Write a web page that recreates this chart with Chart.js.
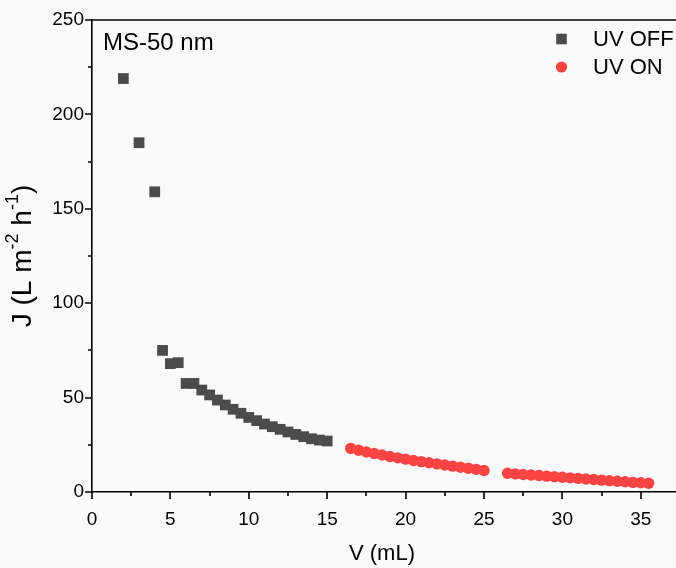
<!DOCTYPE html>
<html><head><meta charset="utf-8">
<script src="https://cdn.jsdelivr.net/npm/chart.js@4/dist/chart.umd.min.js"></script>
<style>html,body{margin:0;padding:0;overflow:hidden;background:#fafafa}#wrap{width:700px;height:568px;position:relative}</style>
</head><body><div id="wrap"><canvas id="c" width="700" height="568"></canvas></div>
<script>
// ---- data ----
const offV = [2, 3, 4, 4.5, 5, 5.5, 6, 6.5, 7, 7.5, 8, 8.5, 9, 9.5, 10, 10.5, 11, 11.5, 12, 12.5, 13, 13.5, 14, 14.5, 15];
const offJ = [219, 185, 159, 75, 68, 68.5, 57.5, 57.5, 54, 51.4, 48.7, 46.1, 43.8, 41.7, 39.5, 37.8, 36, 34.6, 33.2, 31.8, 30.5, 29.3, 28.2, 27.5, 27];
const onV = [16.5, 17, 17.5, 18, 18.5, 19, 19.5, 20, 20.5, 21, 21.5, 22, 22.5, 23, 23.5, 24, 24.5, 25,
             26.5, 27, 27.5, 28, 28.5, 29, 29.5, 30, 30.5, 31, 31.5, 32, 32.5, 33, 33.5, 34, 34.5, 35, 35.5];
const onJ = [23.1, 22.1, 21.2, 20.4, 19.6, 18.8, 18.1, 17.4, 16.7, 16.1, 15.5, 14.9, 14.3, 13.7, 13.1, 12.6, 12.0, 11.4,
             9.9, 9.6, 9.3, 9.0, 8.7, 8.4, 8.1, 7.8, 7.5, 7.2, 6.9, 6.6, 6.3, 6.0, 5.7, 5.4, 5.1, 4.9, 4.6];
const xMajorTicks = [0, 5, 10, 15, 20, 25, 30, 35];
const xMinorTicks = [2.5, 7.5, 12.5, 17.5, 22.5, 27.5, 32.5];
const yMajorTicks = [0, 50, 100, 150, 200, 250];
const yMinorTicks = [25, 75, 125, 175, 225];
const seriesNames = ['UV OFF', 'UV ON'];
const panelLabel = 'MS-50 nm';
const xTitle = 'V (mL)';

const FONT = 'Arial, "Liberation Sans", sans-serif';
const GRAY = '#4b4b4b';
const RED = '#fc4343';

const deco = {
  id: 'deco',
  beforeDraw(chart) {
    const c = chart.ctx;
    c.save(); c.fillStyle = '#fafafa'; c.fillRect(0, 0, chart.width, chart.height); c.restore();
  },
  afterDraw(chart) {
    const c = chart.ctx, a = chart.chartArea, xs = chart.scales.x, ys = chart.scales.y;
    c.save();
    c.strokeStyle = '#000'; c.lineWidth = 1.6;
    // top frame
    c.beginPath(); c.moveTo(a.left, a.top); c.lineTo(chart.width, a.top); c.stroke();
    // ticks
    c.beginPath();
    xMajorTicks.forEach(v => { const p = Math.round(xs.getPixelForValue(v)); c.moveTo(p, a.bottom); c.lineTo(p, a.bottom + 7); });
    xMinorTicks.forEach(v => { const p = Math.round(xs.getPixelForValue(v)); c.moveTo(p, a.bottom); c.lineTo(p, a.bottom + 4); });
    yMajorTicks.forEach(v => { const p = Math.round(ys.getPixelForValue(v)); c.moveTo(a.left, p); c.lineTo(a.left - 7, p); });
    yMinorTicks.forEach(v => { const p = Math.round(ys.getPixelForValue(v)); c.moveTo(a.left, p); c.lineTo(a.left - 4, p); });
    c.stroke();
    // panel label
    c.fillStyle = '#000';
    c.font = '24px ' + FONT; c.textAlign = 'left'; c.textBaseline = 'alphabetic';
    c.fillText(panelLabel, a.left + 11, a.top + 30);
    // legend
    const ds = chart.data.datasets;
    const rows = [39, 67];
    c.font = '22px ' + FONT; c.textBaseline = 'middle';
    ds.forEach((d, i) => {
      const y = rows[i], mx = 561.5;
      c.fillStyle = d.backgroundColor;
      if (d.pointStyle === 'rect') { c.fillRect(mx - 5.3, y - 5.3, 10.6, 10.6); }
      else { c.beginPath(); c.arc(mx, y, 5.6, 0, Math.PI * 2); c.fill(); }
      c.fillStyle = '#000';
      c.fillText(d.label, 593, y + 1);
    });
    // x title
    c.font = '22px ' + FONT; c.textAlign = 'center'; c.textBaseline = 'middle';
    c.fillText(xTitle, 382, 554);
    // y title with superscripts
    const big = '28px ' + FONT, small = '18px ' + FONT;
    const parts = [['J (L m', big, 0], ['-2', small, -10], [' h', big, 0], ['-1', small, -10], [')', big, 0]];
    let tot = 0; parts.forEach(p => { c.font = p[1]; p.push(c.measureText(p[0]).width); tot += p[3]; });
    c.translate(23, (a.top + a.bottom) / 2); c.rotate(-Math.PI / 2);
    c.textAlign = 'left'; c.textBaseline = 'middle';
    let x = -tot / 2;
    parts.forEach(p => { c.font = p[1]; c.fillText(p[0], x, p[2]); x += p[3]; });
    c.restore();
  }
};

new Chart(document.getElementById('c'), {
  type: 'scatter',
  data: {
    datasets: [
      { label: seriesNames[0], data: offV.map((v, i) => ({ x: v, y: offJ[i] })), pointStyle: 'rect', pointRadius: 7.6,
        backgroundColor: GRAY, borderColor: GRAY, borderWidth: 0 },
      { label: seriesNames[1], data: onV.map((v, i) => ({ x: v, y: onJ[i] })), pointStyle: 'circle', pointRadius: 5.7,
        backgroundColor: RED, borderColor: RED, borderWidth: 0 }
    ]
  },
  options: {
    responsive: false, animation: false, events: [],
    layout: { padding: { top: 20, right: 20, left: 0, bottom: 0 } },
    plugins: { legend: { display: false }, tooltip: { enabled: false } },
    scales: {
      x: {
        type: 'linear', min: 0, max: 37.5,
        afterFit(s) { s.height = 76; },
        afterBuildTicks(s) { s.ticks = xMajorTicks.map(v => ({ value: v })); },
        grid: { display: true, drawOnChartArea: false, drawTicks: true, tickLength: 7, color: 'rgba(0,0,0,0)' },
        border: { display: true, color: '#000', width: 1.6 },
        ticks: { font: { size: 19, family: FONT }, color: '#000', padding: 9, maxRotation: 0, autoSkip: false }
      },
      y: {
        type: 'linear', min: 0, max: 250,
        afterFit(s) { s.width = 92; },
        afterBuildTicks(s) { s.ticks = yMajorTicks.map(v => ({ value: v })); },
        grid: { display: true, drawOnChartArea: false, drawTicks: true, tickLength: 7, color: 'rgba(0,0,0,0)' },
        border: { display: true, color: '#000', width: 1.6 },
        ticks: { font: { size: 19, family: FONT }, color: '#000', padding: 1, autoSkip: false }
      }
    }
  },
  plugins: [deco]
});
</script></body></html>
